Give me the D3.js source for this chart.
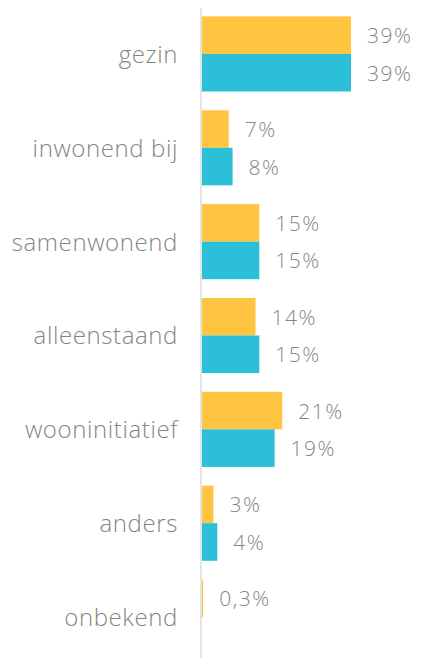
<!DOCTYPE html>
<html>
<head>
<meta charset="utf-8">
<script src="https://cdn.jsdelivr.net/npm/d3@7"></script>
<style>
  html, body { margin: 0; padding: 0; background: #fff; }
  svg { display: block; }
  text { font-family: "Open Sans", Lato, sans-serif; font-weight: 300; fill: #858585; }
</style>
</head>
<body>
<svg id="chart" width="425" height="658"></svg>
<script>
// Woonsituatie: two series per category, shares in percent
const categories = ["gezin", "inwonend bij", "samenwonend", "alleenstaand", "wooninitiatief", "anders", "onbekend"];
const seriesA = [39, 7, 15, 14, 21, 3, 0.3];
const seriesB = [39, 8, 15, 15, 19, 4, null];
const seriesColors = ["#FFC540", "#2BBFD8"];

const svg = d3.select("#chart");
const W = 425, H = 658;

const y = d3.scaleBand()
  .domain(categories)
  .range([7, 664])
  .paddingInner(0.2)
  .paddingOuter(0.1);

const sub = d3.scaleBand()
  .domain([0, 1])
  .range([0, y.bandwidth()]);

const x = d3.scaleLinear()
  .domain([0, 39])
  .range([202, 351]);

const nlLocale = d3.formatLocale({ decimal: ",", thousands: ".", grouping: [3], currency: ["€", ""] });
const fmt = v => (Number.isInteger(v) ? nlLocale.format("d")(v) : nlLocale.format(".1f")(v)) + "%";

// vertical baseline
svg.append("line")
  .attr("x1", 201).attr("x2", 201)
  .attr("y1", 8).attr("y2", H)
  .attr("stroke", "#e4e4e4")
  .attr("stroke-width", 2);

const rows = categories.map((c, i) => ({ cat: c, vals: [seriesA[i], seriesB[i]] }));

const g = svg.selectAll("g.row")
  .data(rows)
  .join("g")
  .attr("class", "row")
  .attr("transform", d => `translate(0,${y(d.cat)})`);

const bars = g.selectAll("g.bar")
  .data(d => d.vals.map((v, s) => ({ v, s })).filter(e => e.v != null))
  .join("g")
  .attr("class", "bar");

bars.append("rect")
  .attr("x", x(0))
  .attr("y", d => sub(d.s))
  .attr("width", d => Math.max(1, x(d.v) - x(0)))
  .attr("height", sub.bandwidth())
  .attr("fill", d => seriesColors[d.s]);

bars.append("text")
  .attr("x", d => x(d.v) + 16)
  .attr("y", d => sub(d.s) + sub.bandwidth() / 2 + 8)
  .attr("font-size", 21)
  .attr("letter-spacing", 1.5)
  .text(d => fmt(d.v));

// category labels
g.append("text")
  .attr("x", 178)
  .attr("y", y.bandwidth() / 2 + 9)
  .attr("text-anchor", "end")
  .attr("font-size", 24)
  .attr("letter-spacing", 0.6)
  .text(d => d.cat);
</script>
</body>
</html>
